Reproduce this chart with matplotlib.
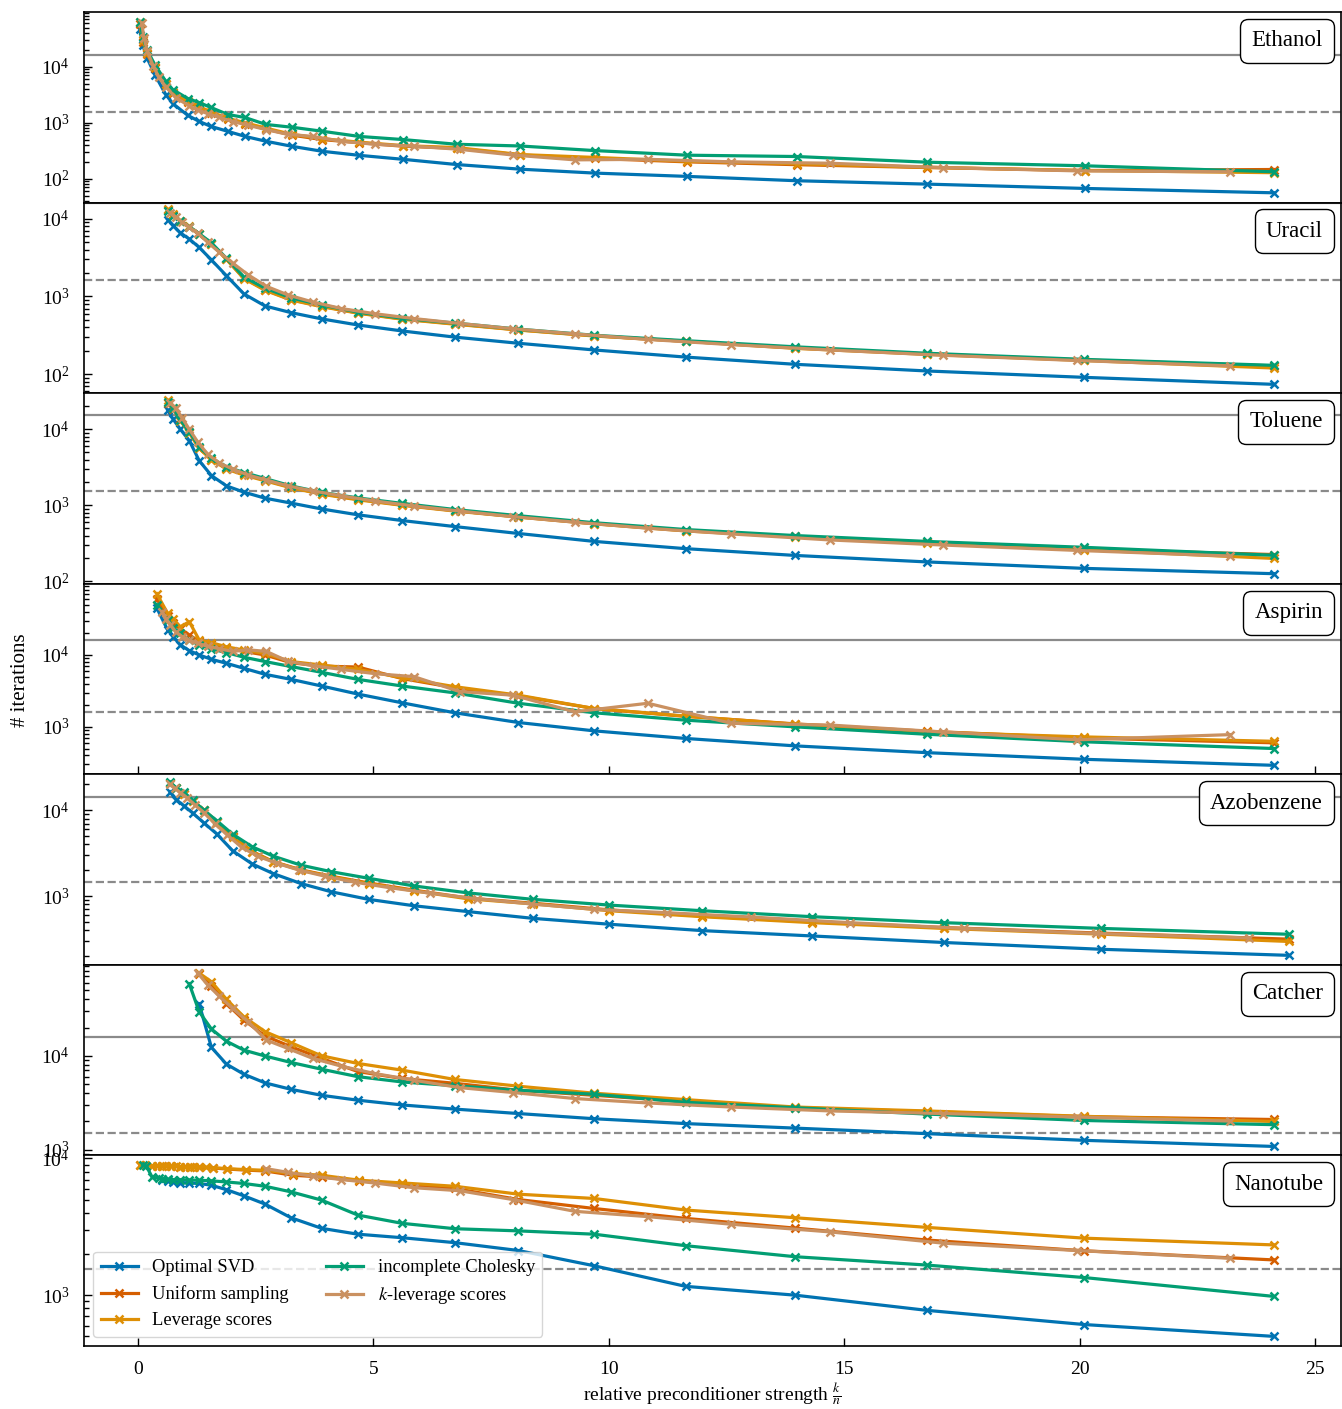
import matplotlib
matplotlib.use('Agg')
import matplotlib.pyplot as plt
from matplotlib.offsetbox import AnchoredText
from matplotlib.ticker import LogLocator, NullFormatter, LogFormatterMathtext

plt.rcParams['font.family'] = ['Liberation Serif', 'DejaVu Serif']
plt.rcParams['mathtext.fontset'] = 'stix'

# ---------------- data ----------------
method_names = ['Optimal SVD', 'Uniform sampling', 'Leverage scores',
                'incomplete Cholesky', '$k$-leverage scores']
panel_names = ['Ethanol', 'Uracil', 'Toluene', 'Aspirin', 'Azobenzene', 'Catcher', 'Nanotube']

# Ethanol
eth_x = [0.04, 0.10, 0.19, 0.36, 0.59, 0.74, 1.06, 1.30, 1.55, 1.91, 2.27, 2.72, 3.27, 3.91,
         4.69, 5.63, 6.77, 8.12, 9.70, 11.66, 13.99, 16.77, 20.12, 24.12]
eth_svd = [47000, 24600, 14500, 7200, 3190, 2200, 1350, 1055, 860, 700, 571, 466, 379, 309,
           262, 222, 179, 148, 126, 110, 92, 80, 67, 56]
eth_unif = [58000, 28000, 17000, 9500, 4900, 3400, 2350, 1900, 1500, 1150, 960, 770, 600, 500,
            440, 380, 350, 265, 230, 200, 178, 158, 140, 146]
eth_lev = [62000, 30000, 17500, 9800, 5000, 3500, 2400, 1950, 1550, 1200, 1000, 800, 620, 520,
           450, 390, 360, 270, 240, 205, 185, 160, 140, 128]
eth_chol = [64000, 34500, 20000, 10800, 5500, 3900, 2700, 2290, 1870, 1400, 1240, 930, 830, 705,
            570, 500, 412, 384, 318, 263, 249, 197, 170, 133]
eth_kx = [0.08, 0.13, 0.20, 0.32, 0.44, 0.59, 0.80, 1.09, 1.27, 1.48, 1.73, 2.01, 2.34, 2.73,
          3.18, 3.71, 4.32, 5.03, 5.86, 6.83, 7.96, 9.28, 10.83, 12.6, 14.7, 17.1, 19.94, 23.2]
eth_klev = [60000, 32000, 19000, 10500, 6500, 4400, 2800, 2000, 1700, 1450, 1250, 1050, 900, 750,
            620, 570, 466, 412, 380, 335, 265, 217, 222, 200, 189, 158, 138, 133]

# Uracil
ura_x = [0.63, 0.75, 0.90, 1.09, 1.30, 1.56, 1.88, 2.25, 2.70, 3.25, 3.90, 4.67, 5.61, 6.73,
         8.08, 9.69, 11.63, 13.96, 16.75, 20.10, 24.12]
ura_svd = [9800, 8200, 6600, 5500, 4290, 2960, 1850, 1080, 755, 620, 515, 430, 360, 300,
           250, 205, 166, 134, 110, 91, 74]
ura_unif = [12800, 11200, 9300, 7800, 6300, 4800, 3050, 1720, 1220, 910, 750, 615, 515, 445,
            372, 312, 265, 218, 182, 152, 128]
ura_lev = [13200, 11500, 9500, 8000, 6300, 4800, 3000, 1700, 1200, 900, 740, 610, 510, 440,
           370, 310, 265, 215, 180, 150, 120]
ura_chol = [12500, 11000, 9300, 7900, 6450, 4900, 3100, 1780, 1280, 960, 780, 630, 525, 455,
            380, 317, 270, 225, 186, 155, 130]
ura_kx = [0.69, 0.80, 0.94, 1.09, 1.27, 1.48, 1.73, 2.01, 2.34, 2.73, 3.18, 3.71, 4.32, 5.03,
          5.86, 6.83, 7.96, 9.28, 10.83, 12.6, 14.7, 17.1, 19.94, 23.2]
ura_klev = [12000, 10500, 9000, 7800, 6500, 5000, 3700, 2700, 1900, 1350, 1050, 850, 700, 600,
            520, 450, 385, 330, 280, 240, 205, 175, 150, 128]

# Toluene
tol_x = [0.63, 0.75, 0.90, 1.09, 1.30, 1.56, 1.88, 2.25, 2.70, 3.25, 3.90, 4.67, 5.61, 6.73,
         8.08, 9.69, 11.63, 13.96, 16.75, 20.10, 24.12]
tol_svd = [17900, 13500, 10000, 7100, 3870, 2460, 1800, 1490, 1240, 1070, 895, 750, 630, 525,
           426, 335, 269, 219, 180, 148, 126]
tol_unif = [22000, 18500, 13500, 9200, 5700, 4000, 3050, 2550, 2150, 1720, 1420, 1200, 1010, 850,
            705, 575, 465, 390, 325, 265, 225]
tol_lev = [24000, 19000, 13000, 9000, 5600, 4000, 3000, 2500, 2100, 1700, 1400, 1180, 1000, 840,
           700, 570, 460, 385, 320, 260, 200]
tol_chol = [23000, 18800, 13300, 9300, 5900, 4150, 3200, 2700, 2250, 1800, 1480, 1250, 1060, 880,
            730, 590, 480, 400, 335, 280, 220]
tol_kx = [0.69, 0.80, 0.94, 1.09, 1.27, 1.48, 1.73, 2.01, 2.34, 2.73, 3.18, 3.71, 4.32, 5.03,
          5.86, 6.83, 7.96, 9.28, 10.83, 12.6, 14.7, 17.1, 19.94, 23.2]
tol_klev = [22000, 19000, 14000, 10000, 6800, 4700, 3600, 3000, 2500, 2150, 1800, 1550, 1330, 1140,
            980, 840, 710, 600, 500, 420, 350, 300, 255, 215]

# Aspirin
asp_x = [0.40, 0.63, 0.75, 0.90, 1.09, 1.30, 1.56, 1.88, 2.25, 2.70, 3.25, 3.90, 4.67, 5.61,
         6.73, 8.08, 9.69, 11.63, 13.96, 16.75, 20.10, 24.12]
asp_svd = [45000, 22300, 18000, 13800, 11500, 10000, 8700, 7660, 6520, 5380, 4580, 3700, 2860, 2160,
           1570, 1150, 880, 690, 544, 438, 354, 292]
asp_unif = [60000, 35000, 28000, 23000, 19000, 15500, 14000, 12500, 11200, 10000, 7800, 7000, 6800, 4700,
            3500, 2700, 1800, 1400, 1100, 870, 700, 600]
asp_lev = [71000, 38000, 31500, 24700, 29000, 16200, 14800, 13000, 11700, 10500, 8100, 7250, 6300, 4820,
           3620, 2760, 1800, 1410, 1090, 850, 725, 630]
asp_chol = [50000, 31000, 24000, 20000, 16200, 13800, 12100, 10800, 9300, 8100, 6900, 5740, 4580, 3700,
            2970, 2130, 1570, 1240, 1000, 790, 620, 500]
asp_kx = [0.51, 0.59, 0.69, 0.80, 0.94, 1.09, 1.27, 1.48, 1.73, 2.01, 2.34, 2.73, 3.18, 3.71,
          4.32, 5.03, 5.86, 6.83, 7.96, 9.28, 10.83, 12.6, 14.7, 17.1, 19.94, 23.2]
asp_klev = [40000, 32000, 26000, 21000, 18000, 16000, 14500, 13200, 12200, 11200, 11800, 11200, 8200, 7100,
            6300, 5500, 5000, 3100, 2760, 1620, 2130, 1120, 1060, 850, 660, 780]

# Azobenzene
azo_x = [0.68, 0.81, 0.98, 1.16, 1.40, 1.68, 2.01, 2.43, 2.87, 3.46, 4.11, 4.90, 5.87, 7.00,
         8.39, 10.01, 11.98, 14.32, 17.11, 20.46, 24.44]
azo_svd = [16300, 13300, 11200, 9300, 7120, 5260, 3370, 2360, 1830, 1400, 1120, 915, 770, 660,
           550, 470, 396, 343, 288, 240, 204]
azo_unif = [20500, 18000, 15500, 12800, 10000, 7300, 4950, 3300, 2520, 2020, 1700, 1420, 1170, 950,
            825, 690, 585, 500, 430, 370, 315]
azo_lev = [20500, 18000, 15500, 12800, 10000, 7300, 4900, 3270, 2500, 2000, 1680, 1400, 1150, 930,
           810, 675, 575, 490, 420, 360, 296]
azo_chol = [21300, 18300, 16100, 13100, 10000, 7500, 5260, 3740, 2920, 2290, 1920, 1610, 1310, 1090,
            915, 785, 675, 575, 490, 420, 359]
azo_kx = [0.67, 0.78, 0.90, 1.04, 1.21, 1.41, 1.63, 1.89, 2.20, 2.55, 2.96, 3.43, 3.98, 4.61,
          5.35, 6.21, 7.20, 8.35, 9.69, 11.24, 13.03, 15.12, 17.54, 20.34, 23.6]
azo_klev = [20000, 18000, 16000, 14000, 11500, 9300, 7000, 5200, 3700, 2900, 2400, 2000, 1700, 1450,
            1250, 1080, 930, 810, 700, 640, 570, 490, 420, 367, 325]

# Catcher
cat_x = [1.30, 1.56, 1.88, 2.25, 2.70, 3.25, 3.90, 4.67, 5.61, 6.73, 8.08, 9.69, 11.63, 13.96,
         16.75, 20.10, 24.12]
cat_svd = [35800, 12300, 8150, 6370, 5150, 4400, 3800, 3370, 3000, 2710, 2430, 2140, 1900, 1700,
           1485, 1260, 1085]
cat_unif = [74000, 56000, 36000, 24000, 16300, 12500, 9400, 6800, 5740, 5100, 4300, 3800, 3250, 2800,
            2550, 2250, 2100]
cat_lev = [76000, 61500, 40000, 26000, 18100, 13800, 10000, 8300, 7040, 5600, 4750, 4000, 3420, 2850,
           2590, 2270, 2000]
cat_chol_x = [1.09, 1.30, 1.56, 1.88, 2.25, 2.70, 3.25, 3.90, 4.67, 5.61, 6.73, 8.08, 9.69, 11.63,
              13.96, 16.75, 20.10, 24.12]
cat_chol = [58500, 29500, 19300, 14300, 11500, 9950, 8500, 7200, 6000, 5270, 4800, 4300, 3900, 3200,
            2800, 2400, 2050, 1850]
cat_kx = [1.27, 1.48, 1.73, 2.01, 2.34, 2.73, 3.18, 3.71, 4.32, 5.03, 5.86, 6.83, 7.96, 9.28,
          10.83, 12.6, 14.7, 17.1, 19.94, 23.2]
cat_klev = [76000, 57000, 43000, 32000, 23000, 14700, 12000, 9400, 7760, 6480, 5500, 4590, 4070, 3510,
            3150, 2850, 2590, 2430, 2230, 2020]

# Nanotube
nan_svd_x = [0.52, 0.63, 0.75, 0.90, 1.09, 1.30, 1.56, 1.88, 2.25, 2.70, 3.25, 3.90, 4.67, 5.61,
             6.73, 8.08, 9.69, 11.63, 13.96, 16.75, 20.10, 24.12]
nan_svd = [6900, 6800, 6700, 6650, 6600, 6550, 6360, 5900, 5320, 4630, 3680, 3080, 2790, 2630,
           2420, 2120, 1640, 1160, 1000, 775, 610, 500]
nan_unif_x = [0.05, 0.30, 0.50, 0.70, 0.90, 1.10, 1.30, 1.60, 1.90, 2.30, 2.70, 3.30, 3.90, 4.70,
              5.61, 6.73, 8.08, 9.69, 11.63, 13.96, 16.75, 20.10, 24.12]
nan_unif = [8900, 8850, 8800, 8750, 8700, 8650, 8600, 8500, 8350, 8200, 8090, 7520, 7310, 6840,
            6500, 6020, 5000, 4300, 3640, 3090, 2530, 2110, 1810]
nan_lev_x = [0.05, 0.15, 0.30, 0.40, 0.50, 0.60, 0.70, 0.80, 0.90, 1.00, 1.10, 1.20, 1.30, 1.45,
             1.60, 1.90, 2.30, 2.70, 3.30, 3.90, 4.70, 5.61, 6.73, 8.08, 9.69, 11.63, 13.96, 16.75,
             20.10, 24.12]
nan_lev = [8900, 8900, 8850, 8850, 8800, 8800, 8750, 8750, 8700, 8700, 8650, 8650, 8600, 8600,
           8550, 8400, 8270, 8180, 7740, 7520, 6920, 6610, 6250, 5470, 5090, 4190, 3680, 3130,
           2610, 2330]
nan_chol_x = [0.10, 0.18, 0.30, 0.44, 0.52, 0.63, 0.75, 0.90, 1.09, 1.30, 1.56, 1.88, 2.25, 2.70,
              3.25, 3.90, 4.67, 5.61, 6.73, 8.08, 9.69, 11.63, 13.96, 16.75, 20.10, 24.12]
nan_chol = [9000, 8750, 7300, 7150, 7100, 7050, 7000, 6980, 6950, 6920, 6850, 6720, 6550, 6250,
            5690, 4950, 3850, 3350, 3060, 2950, 2790, 2300, 1910, 1660, 1345, 980]
nan_kx = [2.73, 3.18, 3.71, 4.32, 5.03, 5.86, 6.83, 7.96, 9.28, 10.83, 12.6, 14.7, 17.1, 19.94, 23.2]
nan_klev = [8400, 7900, 7400, 7000, 6600, 6100, 5800, 5000, 4100, 3750, 3300, 2900, 2400, 2120, 1860]

# reference levels (solid / dashed) and y-ranges per panel
solid_levels = [16000, 16000, 15300, 16000, 14300, 15700, 15500]
dashed_levels = [1580, 1610, 1540, 1590, 1440, 1500, 1550]
y_lows = [37.5, 57, 93, 219, 158, 870, 425]
y_highs = [95000, 16200, 29900, 98000, 26200, 93000, 10500]

# ---------------- assemble ----------------
panels = [
    [(eth_x, eth_svd), (eth_x, eth_unif), (eth_x, eth_lev), (eth_x, eth_chol), (eth_kx, eth_klev)],
    [(ura_x, ura_svd), (ura_x, ura_unif), (ura_x, ura_lev), (ura_x, ura_chol), (ura_kx, ura_klev)],
    [(tol_x, tol_svd), (tol_x, tol_unif), (tol_x, tol_lev), (tol_x, tol_chol), (tol_kx, tol_klev)],
    [(asp_x, asp_svd), (asp_x, asp_unif), (asp_x, asp_lev), (asp_x, asp_chol), (asp_kx, asp_klev)],
    [(azo_x, azo_svd), (azo_x, azo_unif), (azo_x, azo_lev), (azo_x, azo_chol), (azo_kx, azo_klev)],
    [(cat_x, cat_svd), (cat_x, cat_unif), (cat_x, cat_lev), (cat_chol_x, cat_chol), (cat_kx, cat_klev)],
    [(nan_svd_x, nan_svd), (nan_unif_x, nan_unif), (nan_lev_x, nan_lev), (nan_chol_x, nan_chol),
     (nan_kx, nan_klev)],
]
colors = ['#0173b2', '#d55e00', '#de8f05', '#029e73', '#ca9161']

fig = plt.figure(figsize=(13.42, 14.09), dpi=100)
axes = fig.subplots(7, 1, sharex=True)
fig.subplots_adjust(left=0.0626, right=0.9995, top=0.9915, bottom=0.0447, hspace=0)

for i, ax in enumerate(axes):
    for (xs, ys), c, lab in zip(panels[i], colors, method_names):
        ax.plot(xs, ys, color=c, lw=2.3, marker='x', ms=6, mew=1.8, label=lab, zorder=3)
    ax.axhline(solid_levels[i], color='#8a8a8a', lw=1.6, zorder=2)
    ax.axhline(dashed_levels[i], color='#8a8a8a', lw=1.6, ls='--', zorder=2)
    ax.set_yscale('log')
    ax.set_ylim(y_lows[i], y_highs[i])
    ax.set_xlim(-1.146, 25.56)
    ax.yaxis.set_major_locator(LogLocator(base=10))
    ax.yaxis.set_major_formatter(LogFormatterMathtext())
    ax.yaxis.set_minor_locator(LogLocator(base=10, subs=[2, 3, 4, 5, 6, 7, 8, 9], numticks=20))
    ax.yaxis.set_minor_formatter(NullFormatter())
    ax.tick_params(which='both', direction='in', labelsize=14, width=1.0, pad=10.5)
    ax.tick_params(which='major', length=6)
    ax.tick_params(which='minor', length=3.5)
    ax.tick_params(axis='x', bottom=(i in (3, 6)), top=False)
    for sp in ax.spines.values():
        sp.set_linewidth(1.2)
    at = AnchoredText(panel_names[i], loc='upper right', prop=dict(size=16.5),
                      frameon=True, pad=0.5, borderpad=0.3)
    at.patch.set_boxstyle('round,pad=0.,rounding_size=0.35')
    at.patch.set_linewidth(1.0)
    ax.add_artist(at)

axes[-1].set_xticks([0, 5, 10, 15, 20, 25])
axes[-1].set_xlabel(r'relative preconditioner strength $\frac{k}{n}$', fontsize=14, labelpad=2)
axes[-1].legend(loc='lower left', ncol=2, fontsize=13.3, columnspacing=2.0)
fig.text(0.015, 0.517, '# iterations', rotation=90, va='center', ha='center', fontsize=15)

fig.savefig('out.png', dpi=100)
